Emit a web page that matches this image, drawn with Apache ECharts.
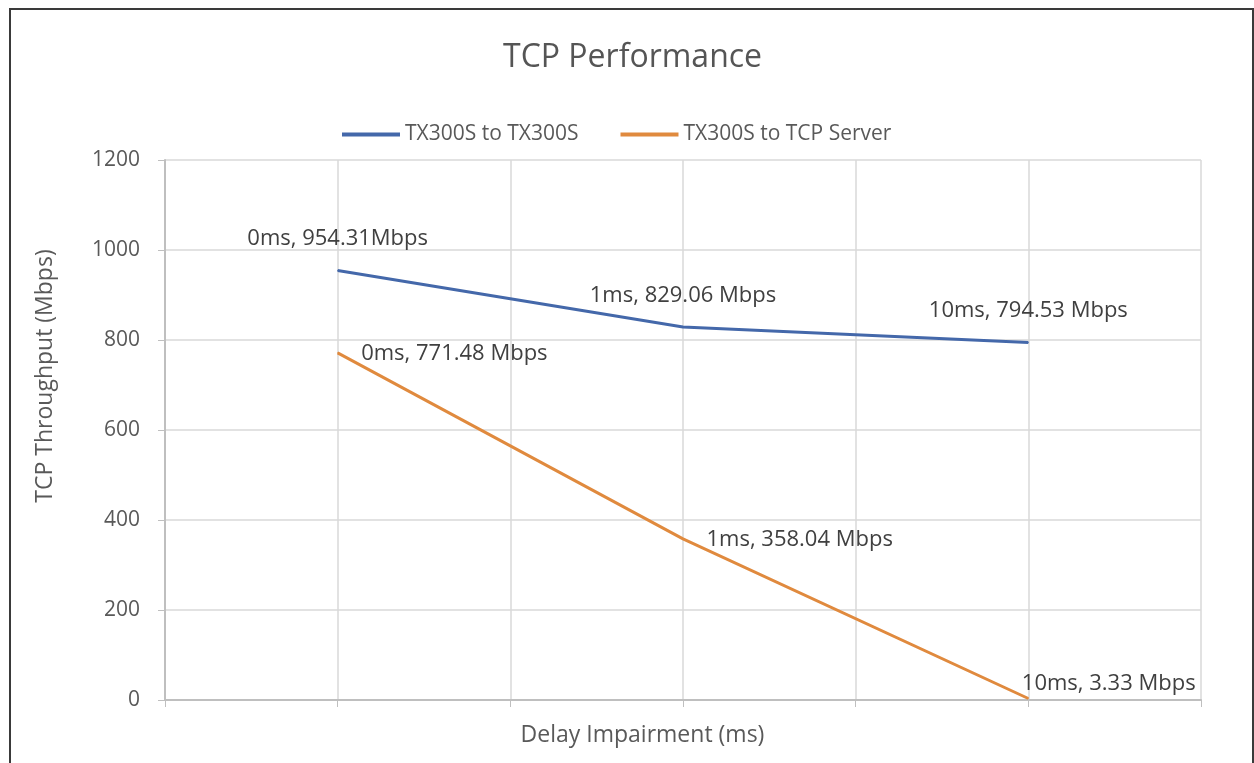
<!DOCTYPE html>
<html>
<head>
<meta charset="utf-8">
<script src="https://cdn.jsdelivr.net/npm/echarts@6/dist/echarts.min.js"></script>
<style>
  html, body { margin: 0; padding: 0; background: #ffffff; }
  #chart { width: 1254px; height: 763px; }
</style>
</head>
<body>
<div id="chart"></div>
<script>
// delay steps and where they sit on the (hidden) x scale
const delays = ["0ms", "1ms", "10ms"];
const xPositions = [1, 2, 3];
const seriesNames = ["TX300S to TX300S", "TX300S to TCP Server"];
const tx300sToTx300s = [954.31, 829.06, 794.53];
const tx300sToTcpServer = [771.48, 358.04, 3.33];
// the first blue label has no space before the unit in the original
const blueUnitSep = ["", " ", " "];
const yTicks = [0, 200, 400, 600, 800, 1000, 1200];

const textColor = "#595959";
const fontFamily = "'Open Sans', sans-serif";

var chart = echarts.init(document.getElementById("chart"));

const labelBase = {
  show: true,
  fontSize: 22,
  color: "#404040",
  fontFamily: fontFamily,
};

const blueData = tx300sToTx300s.map((v, i) => {
  return {
    value: [xPositions[i], v],
    label: Object.assign({}, labelBase, {
      position: "top",
      distance: 20,
      formatter: delays[i] + ", " + v.toFixed(2) + blueUnitSep[i] + "Mbps",
    }),
  };
});

const orangeData = tx300sToTcpServer.map((v, i) => {
  const last = i === tx300sToTcpServer.length - 1;
  return {
    value: [xPositions[i], v],
    label: Object.assign({}, labelBase, {
      position: "right",
      distance: last ? 5 : 23,
      offset: last ? [-12, -15] : [0, 1],
      formatter: delays[i] + ", " + v.toFixed(2) + " Mbps",
    }),
  };
});

var option = {
  backgroundColor: "#ffffff",
  animation: false,
  textStyle: {
    fontFamily: fontFamily,
  },
  title: {
    text: "TCP Performance",
    left: 503,
    top: 42,
    padding: 0,
    textStyle: {
      color: "#555555",
      fontSize: 32,
      fontWeight: "normal",
      fontFamily: fontFamily,
    },
  },
  legend: {
    left: 337,
    top: 119,
    itemWidth: 58,
    itemHeight: 4,
    itemGap: 42,
    icon: "rect",
    data: seriesNames,
    textStyle: {
      color: textColor,
      fontSize: 21,
      fontFamily: fontFamily,
    },
  },
  grid: {
    left: 165,
    right: 53,
    top: 160,
    bottom: 63,
  },
  xAxis: {
    type: "value",
    min: 0.5,
    max: 3.5,
    interval: 0.5,
    name: "Delay Impairment (ms)",
    nameLocation: "middle",
    nameGap: 24,
    nameTextStyle: {
      color: textColor,
      fontSize: 23,
      padding: [0, 81, 0, 0],
    },
    axisLabel: {
      show: false,
    },
    axisLine: {
      show: true,
      lineStyle: { color: "#bfbfbf", width: 2 },
    },
    axisTick: {
      show: true,
      length: 7,
      lineStyle: { color: "#bfbfbf" },
    },
    splitLine: {
      show: true,
      lineStyle: { color: "#d9d9d9", width: 1.5 },
    },
  },
  yAxis: {
    type: "value",
    min: yTicks[0],
    max: yTicks[yTicks.length - 1],
    interval: yTicks[1] - yTicks[0],
    name: "TCP Throughput (Mbps)",
    nameLocation: "middle",
    nameRotate: 90,
    nameGap: 108,
    nameTextStyle: {
      color: textColor,
      fontSize: 23,
      padding: [0, 0, 0, 108],
    },
    axisLabel: {
      color: textColor,
      fontSize: 21,
      margin: 25,
      formatter: (v) => String(v),
    },
    axisLine: {
      show: true,
      lineStyle: { color: "#bfbfbf", width: 2 },
    },
    axisTick: {
      show: true,
      length: 7,
      lineStyle: { color: "#bfbfbf" },
    },
    splitLine: {
      lineStyle: { color: "#d9d9d9", width: 1.5 },
    },
  },
  graphic: [
    {
      type: "rect",
      shape: { x: 10, y: 9, width: 1243, height: 800 },
      style: { fill: "none", stroke: "#3a3a3a", lineWidth: 2 },
      silent: true,
    },
  ],
  series: [
    {
      name: seriesNames[0],
      type: "line",
      data: blueData,
      symbol: "circle",
      symbolSize: 1,
      color: "#4468aa",
      lineStyle: { width: 3, color: "#4468aa" },
      emphasis: { disabled: true },
    },
    {
      name: seriesNames[1],
      type: "line",
      data: orangeData,
      symbol: "circle",
      symbolSize: 1,
      color: "#e08a3e",
      lineStyle: { width: 3, color: "#e08a3e" },
      emphasis: { disabled: true },
    },
  ],
};

option && chart.setOption(option);
</script>
</body>
</html>
